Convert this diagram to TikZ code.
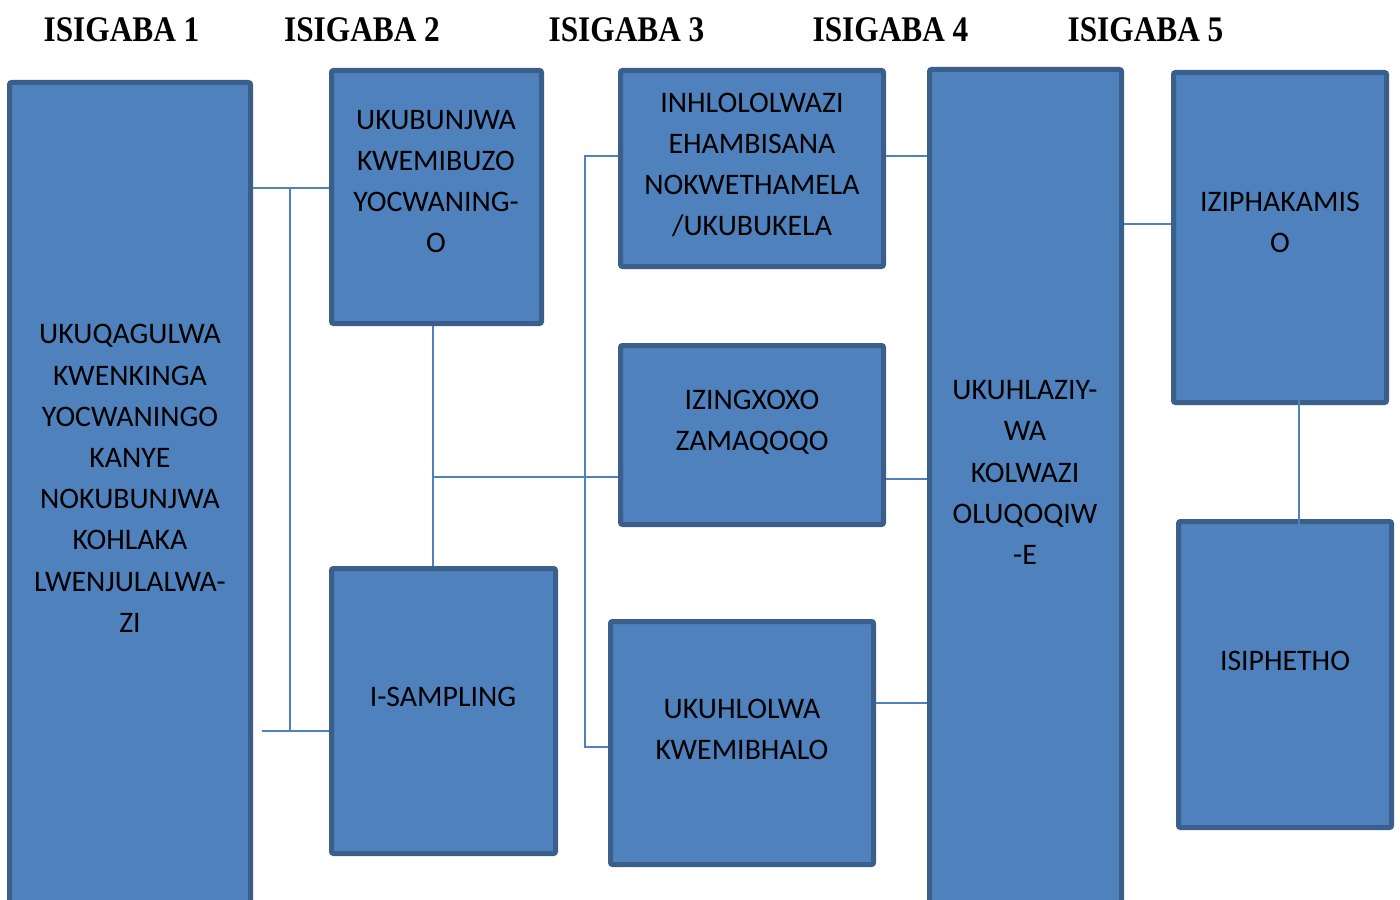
\documentclass[tikz,border=0pt]{standalone}
\usepackage{fontspec}
\usepackage{tikz}
\usetikzlibrary{positioning, calc}
\newfontfamily\boxfont{Carlito}
\newfontfamily\headfont[FakeStretch=0.87]{Liberation Serif}
\definecolor{stagefill}{HTML}{4F81BD}
\definecolor{stageedge}{HTML}{3A5F8B}
\tikzstyle{stage} = [rectangle, draw=stageedge, fill=stagefill, line width=2.5pt, rounded corners=1pt, inner sep=0pt]
\tikzstyle{stagetext} = [align=center, inner sep=0pt, font=\boxfont\fontsize{14.9}{20.6}\selectfont]
\tikzstyle{heading} = [inner sep=0pt, font=\headfont\bfseries\fontsize{18}{20}\selectfont]
\tikzstyle{link} = [draw=stagefill, line width=1pt]

\begin{document}
\begin{tikzpicture}[x=0.5pt, y=-0.5pt]
    \useasboundingbox (0,0) rectangle (1400,899);

    % Headings
    \node (head1) [heading] at (121.5,30) {ISIGABA 1};
    \node (head2) [heading] at (362,30) {ISIGABA 2};
    \node (head3) [heading] at (626.5,30) {ISIGABA 3};
    \node (head4) [heading] at (890.5,30) {ISIGABA 4};
    \node (head5) [heading] at (1145.5,30) {ISIGABA 5};

    % Stage 1
    \node (pick) [stage, minimum width=120.5pt, minimum height=428.75pt] at (130,511.25) {};
    \node (pick-text) [stagetext] at (130,478.5) {
        UKUQAGULWA\\
        KWENKINGA\\
        YOCWANINGO\\
        KANYE\\
        NOKUBUNJWA\\
        KOHLAKA\\
        LWENJULALWA-\\
        ZI
    };

    % Stage 2
    \node (quest) [stage, minimum width=105pt, minimum height=126.5pt] at (436.5,197) {};
    \node (quest-text) [stagetext] at (436,181.5) {
        UKUBUNJWA\\
        KWEMIBUZO\\
        YOCWANING-\\
        O
    };
    \node (sample) [stage, minimum width=112pt, minimum height=142.5pt] at (443.5,711) {};
    \node (sample-text) [stagetext] at (443,697) {I-SAMPLING};

    % Stage 3
    \node (observe) [stage, minimum width=131.5pt, minimum height=98pt] at (752,168.5) {};
    \node (observe-text) [stagetext] at (752,165) {
        INHLOLOLWAZI\\
        EHAMBISANA\\
        NOKWETHAMELA\\
        /UKUBUKELA
    };
    \node (talk) [stage, minimum width=131.5pt, minimum height=89.5pt] at (752,435) {};
    \node (talk-text) [stagetext] at (752,422.5) {
        IZINGXOXO\\
        ZAMAQOQO
    };
    \node (docs) [stage, minimum width=131.5pt, minimum height=121.5pt] at (742,743) {};
    \node (docs-text) [stagetext] at (742,729.5) {
        UKUHLOLWA\\
        KWEMIBHALO
    };

    % Stage 4
    \node (analyse) [stage, minimum width=96pt, minimum height=435.25pt] at (1025.5,504.75) {};
    \node (analyse-text) [stagetext] at (1025,472.5) {
        UKUHLAZIY-\\
        WA\\
        KOLWAZI\\
        OLUQOQIW\\
        -E
    };

    % Stage 5
    \node (advise) [stage, minimum width=106.5pt, minimum height=165pt] at (1280,237.5) {};
    \node (advise-text) [stagetext] at (1280,222.5) {
        IZIPHAKAMIS\\
        O
    };
    \node (close) [stage, minimum width=106.5pt, minimum height=153pt] at (1285,674.5) {};
    \node (close-text) [stagetext] at (1285,661) {ISIPHETHO};

    % Connectors
    \coordinate (fork) at (290,188);
    \coordinate (forkend) at (290,731);
    \coordinate (spine) at (433,477);
    \coordinate (rail) at (585,156);
    \coordinate (railend) at (585,747);

    \draw [link] (pick.east |- fork) -- (quest.west |- fork);
    \draw [link] (fork) -- (forkend);
    \draw [link] ([xshift=4.25pt]pick.east |- forkend) -- (sample.west |- forkend);

    \draw [link] (spine |- quest.south) -- (spine |- sample.north);
    \draw [link] (spine) -- (talk.west |- spine);
    \draw [link] (observe.west |- rail) -- (rail) -- (railend) -- (docs.west |- railend);

    \draw [link] (observe.east |- 0,156) -- (analyse.west |- 0,156);
    \draw [link] (talk.east |- 0,479) -- (analyse.west |- 0,479);
    \draw [link] (docs.east |- 0,703) -- (analyse.west |- 0,703);
    \draw [link] (analyse.east |- 0,224) -- (advise.west |- 0,224);

    \draw [link] ([xshift=9.5pt, yshift=27.25pt]advise.south) -- ([xshift=7pt, yshift=-11.75pt]close.north);
\end{tikzpicture}
\end{document}
